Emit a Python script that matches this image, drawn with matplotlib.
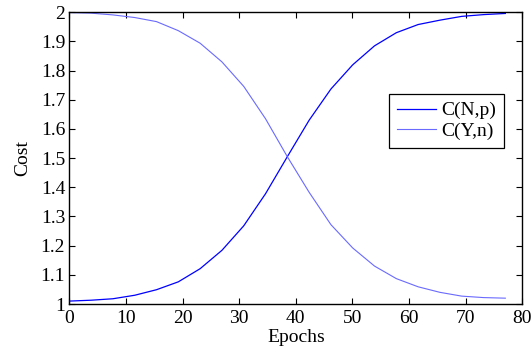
import numpy as np
import matplotlib
matplotlib.use("Agg")
import matplotlib.pyplot as plt
from matplotlib.ticker import FormatStrFormatter

# ==========================================
# DATOS
# ==========================================

epocas = [0, 3.85, 7.7, 11.55, 15.4, 19.25, 23.1, 26.95, 30.8, 34.65, 38.5,
          42.35, 46.2, 50.05, 53.9, 57.75, 61.6, 65.45, 69.3, 73.15, 77]

costo_np = [1.010, 1.013, 1.018, 1.030, 1.049, 1.076, 1.121, 1.184, 1.268,
            1.378, 1.505, 1.630, 1.737, 1.820, 1.885, 1.930, 1.958, 1.973,
            1.986, 1.992, 1.996]

costo_yn = [1.999, 1.997, 1.991, 1.982, 1.968, 1.937, 1.894, 1.830, 1.746,
            1.635, 1.505, 1.383, 1.272, 1.192, 1.130, 1.087, 1.059, 1.040,
            1.027, 1.022, 1.020]

etiquetas = ["C(N,p)", "C(Y,n)"]

# ==========================================
# ESTILO
# ==========================================

plt.rcParams["font.family"] = ["Liberation Serif", "DejaVu Serif"]
plt.rcParams["font.size"] = 14

fig = plt.figure(figsize=(5.32, 3.53), dpi=100)
ax = fig.add_axes([0.1303, 0.1388, 0.8515, 0.8264])

ax.plot(epocas, costo_np, color="#0000ff", linewidth=0.9, label=etiquetas[0])
ax.plot(epocas, costo_yn, color="#6a6aff", linewidth=0.8, label=etiquetas[1])

ax.set_xlim(0, 80)
ax.set_ylim(1, 2)
ax.set_xticks(np.arange(0, 81, 10))
ax.set_yticks(np.arange(1, 2.01, 0.1))
ax.yaxis.set_major_formatter(FormatStrFormatter("%g"))

ax.tick_params(direction="in", length=4, width=0.8, top=True, right=True,
               labelsize=14)
ax.tick_params(axis="x", pad=4)
ax.tick_params(axis="y", pad=3)
for lado in ax.spines.values():
    lado.set_linewidth(1.0)

ax.set_xlabel("Epochs", fontsize=14, labelpad=2)
ax.set_ylabel("Cost", fontsize=14, labelpad=7)

leg = ax.legend(loc="upper left", bbox_to_anchor=(0.706, 0.72),
                fancybox=False, edgecolor="black", framealpha=1,
                handlelength=2.0, handletextpad=0.3, borderpad=0.4,
                labelspacing=0.15, borderaxespad=0, fontsize=14)
leg.get_frame().set_linewidth(0.9)

fig.savefig("out.png", dpi=100)
